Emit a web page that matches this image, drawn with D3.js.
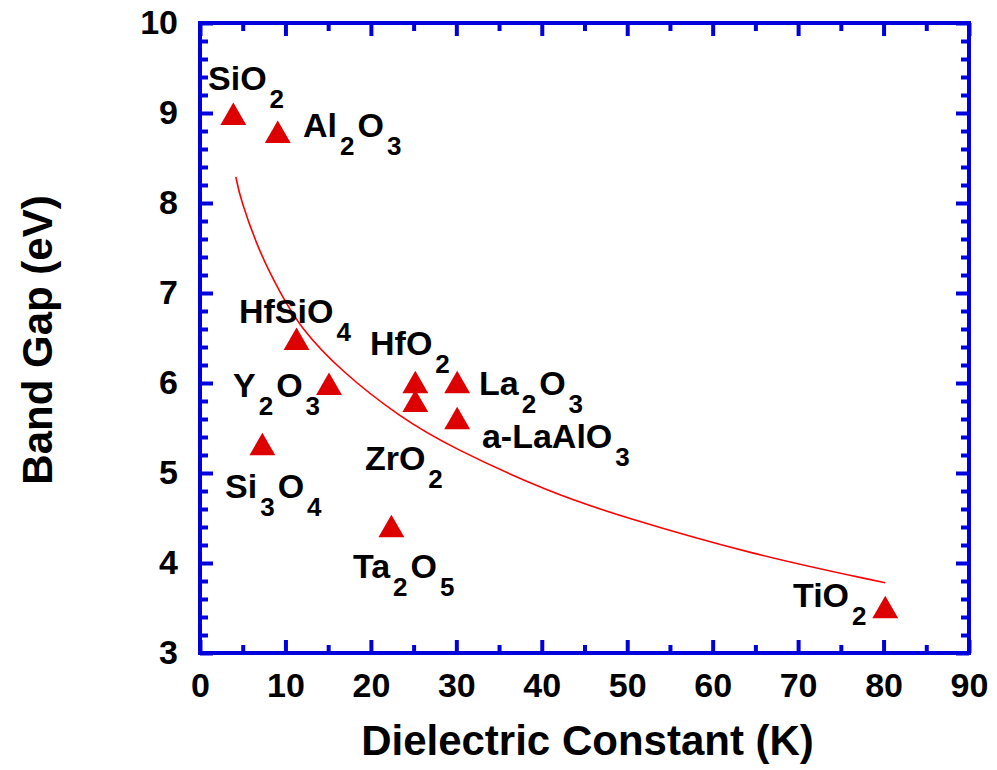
<!DOCTYPE html>
<html>
<head>
<meta charset="utf-8">
<script src="https://cdn.jsdelivr.net/npm/d3@7"></script>
<style>
  body { margin: 0; background: #fff; }
  text { font-family: "Liberation Sans", Arial, sans-serif; font-weight: bold; fill: #000; }
</style>
</head>
<body>
<div id="chart"></div>
<script>
// materials, subscripts in braces
var materials = ["SiO{2}", "Al{2}O{3}", "HfSiO{4}", "Y{2}O{3}", "Si{3}O{4}", "HfO{2}", "ZrO{2}", "La{2}O{3}", "a-LaAlO{3}", "Ta{2}O{5}", "TiO{2}"];
var kValues = [3.9, 9.1, 11.3, 15.1, 7.3, 25.2, 25.2, 30.1, 30.1, 22.4, 80.2];
var gapValues = [8.95, 8.75, 6.45, 5.95, 5.28, 5.97, 5.76, 5.97, 5.57, 4.37, 3.47];
// where each label starts (data units)
var labelK = [0.94, 12.05, 4.56, 3.86, 2.93, 19.9, 19.3, 32.65, 33.0, 17.9, 69.4];
var labelGap = [9.26, 8.73, 6.67, 5.84, 4.72, 6.31, 5.03, 5.87, 5.28, 3.83, 3.51];

// fitted curve
var fitK = [4.2, 4.7, 7.0, 9.4, 11.7, 16.4, 23.4, 29.3, 41.0, 49.2, 64.8, 80.2];
var fitGap = [8.29, 8.05, 7.44, 7.0, 6.62, 6.14, 5.62, 5.29, 4.78, 4.52, 4.09, 3.78];

var xTicks = [0, 10, 20, 30, 40, 50, 60, 70, 80, 90];
var xMinor = [5, 15, 25, 35, 45, 55, 65, 75, 85];
var yTicks = [3, 4, 5, 6, 7, 8, 9, 10];
var yMinor = [];
for (var v = 3; v < 10; v++) {
  [0.2, 0.4, 0.6, 0.8].forEach(function (f) { yMinor.push(+(v + f).toFixed(1)); });
}

var margin = { top: 23, right: 28, bottom: 117, left: 200 },
    width = 997 - margin.left - margin.right,
    height = 770 - margin.top - margin.bottom;

var svg = d3.select("#chart")
    .append("svg")
    .attr("width", 997)
    .attr("height", 770)
    .append("g")
    .attr("transform", "translate(" + margin.left + "," + margin.top + ")");

var x = d3.scaleLinear().domain([0, 90]).range([0, width]);
var y = d3.scaleLinear().domain([3, 10]).range([height, 0]);

var blue = "#0000dd";

function styleAxis(g) {
  g.select(".domain").remove();
  g.selectAll(".tick line").attr("stroke", blue).attr("stroke-width", 4);
}

// bottom axis with labels
svg.append("g")
    .attr("transform", "translate(0," + height + ")")
    .call(d3.axisBottom(x).tickValues(xTicks).tickSize(-13).tickPadding(20).tickFormat(d3.format("d")))
    .call(styleAxis)
    .selectAll("text").attr("font-size", 34).attr("fill", "#000")
    .style("font-family", "Liberation Sans, Arial, sans-serif").style("font-weight", "bold");
svg.append("g")
    .attr("transform", "translate(0," + height + ")")
    .call(d3.axisBottom(x).tickValues(xMinor).tickSize(-8).tickFormat(""))
    .call(styleAxis);
// top axis, ticks only
svg.append("g")
    .call(d3.axisTop(x).tickValues(xTicks).tickSize(-13).tickFormat(""))
    .call(styleAxis);
svg.append("g")
    .call(d3.axisTop(x).tickValues(xMinor).tickSize(-8).tickFormat(""))
    .call(styleAxis);

// left axis with labels
svg.append("g")
    .call(d3.axisLeft(y).tickValues(yTicks).tickSize(-13).tickPadding(22).tickFormat(d3.format("d")))
    .call(styleAxis)
    .selectAll("text").attr("font-size", 34).attr("fill", "#000")
    .style("font-family", "Liberation Sans, Arial, sans-serif").style("font-weight", "bold");
svg.append("g")
    .call(d3.axisLeft(y).tickValues(yMinor).tickSize(-8).tickFormat(""))
    .call(styleAxis);
// right axis, ticks only
svg.append("g")
    .attr("transform", "translate(" + width + ",0)")
    .call(d3.axisRight(y).tickValues(yTicks).tickSize(-13).tickFormat(""))
    .call(styleAxis);
svg.append("g")
    .attr("transform", "translate(" + width + ",0)")
    .call(d3.axisRight(y).tickValues(yMinor).tickSize(-8).tickFormat(""))
    .call(styleAxis);

// frame
svg.append("rect")
    .attr("width", width)
    .attr("height", height)
    .attr("fill", "none")
    .attr("stroke", blue)
    .attr("stroke-width", 4);

// fit curve
var fitData = fitK.map(function (k, i) { return { k: k, g: fitGap[i] }; });
svg.append("path")
    .datum(fitData)
    .attr("fill", "none")
    .attr("stroke", "#ff0000")
    .attr("stroke-width", 1.6)
    .attr("d", d3.line().curve(d3.curveBasis)
        .x(function (d) { return x(d.k); })
        .y(function (d) { return y(d.g); }));

// points
var data = materials.map(function (m, i) {
  return { name: m, k: kValues[i], g: gapValues[i], lk: labelK[i], lg: labelGap[i] };
});

svg.append("g")
    .selectAll("path")
    .data(data)
    .enter()
    .append("path")
    .attr("d", d3.symbol().type(d3.symbolTriangle).size(290))
    .attr("transform", function (d) { return "translate(" + x(d.k) + "," + y(d.g) + ")"; })
    .attr("fill", "#dd0000");

// labels with subscripts
data.forEach(function (d) {
  var t = svg.append("text")
      .attr("x", x(d.lk))
      .attr("y", y(d.lg))
      .attr("font-size", 34);
  var parts = d.name.split(/(\{\d\})/).filter(function (p) { return p !== ""; });
  var down = false;
  parts.forEach(function (p) {
    if (p.charAt(0) === "{") {
      t.append("tspan").attr("dx", 3).attr("dy", down ? 0 : 18)
          .attr("font-size", 26).text(p.slice(1, -1));
      down = true;
    } else {
      t.append("tspan").attr("dx", down ? 3 : 0).attr("dy", down ? -18 : 0).text(p);
      down = false;
    }
  });
});

// axis titles
svg.append("text")
    .attr("x", width / 2 + 3)
    .attr("y", height + 102)
    .attr("text-anchor", "middle")
    .attr("font-size", 42)
    .text("Dielectric Constant (K)");

svg.append("text")
    .attr("transform", "translate(" + (-148) + "," + (y(6.5) + 2) + ") rotate(-90)")
    .attr("text-anchor", "middle")
    .attr("font-size", 42)
    .text("Band Gap (eV)");
</script>
</body>
</html>
